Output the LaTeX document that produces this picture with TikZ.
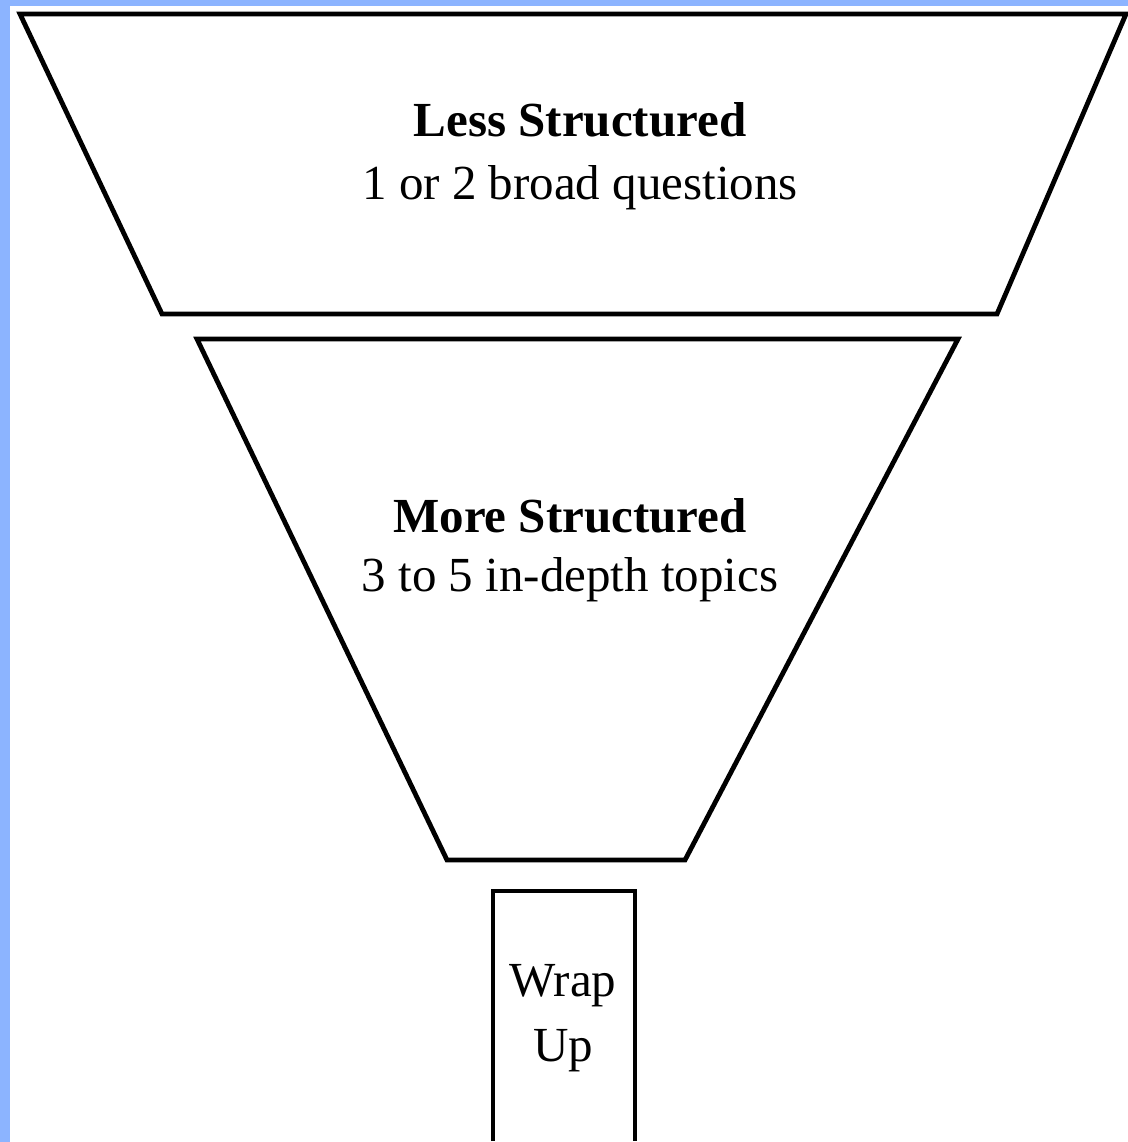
\documentclass[tikz,border=0pt]{standalone}
\usepackage{fontspec}
\setmainfont{Liberation Serif}
\definecolor{framblue}{RGB}{140, 180, 255}
\usetikzlibrary{positioning}

\begin{document}
\begin{tikzpicture}[x=0.5pt, y=-0.5pt,
    stage/.style={draw, line width=2.4pt, line join=miter, fill=white},
    title/.style={font=\fontsize{24.5}{32.5}\selectfont\bfseries},
    sub/.style={font=\fontsize{24.5}{32.5}\selectfont}]

% frame
\fill[framblue] (0,0) rectangle (1128,1142);
\fill[white] (10,6) rectangle (1128,1142);
\useasboundingbox (0,0) rectangle (1128,1142);

% funnel
\draw[stage] (20,14) -- (1126,14) -- (997,314) -- (162,314) -- cycle;
\draw[stage] (197,339) -- (958,339) -- (685,860) -- (447,860) -- cycle;
\draw[stage] (493,1141) -- (493,891) -- (635,891) -- (635,1141);

\node[title] (less) at (580,120) {Less Structured};
\node[sub, below=7pt of less.south, anchor=north] (lesstxt) {1 or 2 broad questions};
\node[title] (more) at (570,516) {More Structured};
\node[sub, below=5pt of more.south, anchor=north] (moretxt) {3 to 5 in-depth topics};
\node[sub, align=center] (wrap) at (563,1018) {Wrap\\Up};
\end{tikzpicture}
\end{document}
